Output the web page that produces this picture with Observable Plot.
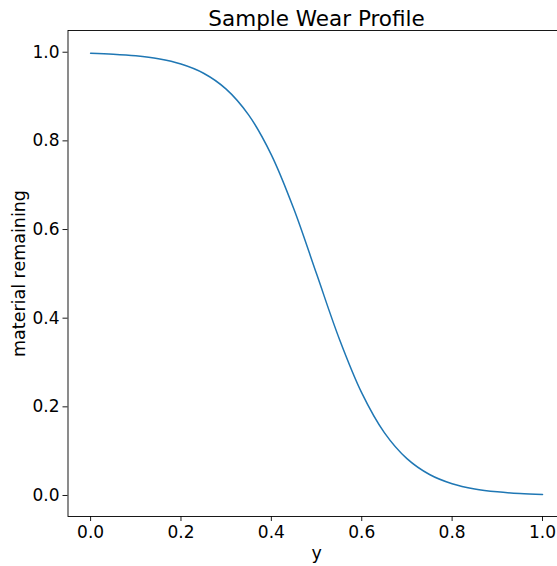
<!DOCTYPE html>
<html>
<head>
<meta charset="utf-8">
<script src="https://cdn.jsdelivr.net/npm/d3@7"></script>
<script src="https://cdn.jsdelivr.net/npm/@observablehq/plot@0.6"></script>
<style>
  html, body { margin: 0; padding: 0; background: white; overflow: hidden; }
  #chart svg { overflow: hidden; }
</style>
</head>
<body>
<div id="chart"></div>
<script>
const title = "Sample Wear Profile";
const xLabel = "y";
const yLabel = "material remaining";

const positions = [0.00, 0.05, 0.10, 0.15, 0.20, 0.25, 0.30, 0.35, 0.40, 0.45, 0.50,
                   0.55, 0.60, 0.65, 0.70, 0.75, 0.80, 0.85, 0.90, 0.95, 1.00];
const remaining = [0.9975, 0.9955, 0.9918, 0.9852, 0.9734, 0.9526, 0.9168, 0.8581, 0.7685, 0.6457, 0.5000,
                   0.3543, 0.2315, 0.1419, 0.0832, 0.0474, 0.0266, 0.0148, 0.0082, 0.0045, 0.0025];

const xTicks = [0, 0.2, 0.4, 0.6, 0.8, 1.0];
const yTicks = [0, 0.2, 0.4, 0.6, 0.8, 1.0];

const data = positions.map((p, i) => ({p, v: remaining[i]}));
const font = "DejaVu Sans";
const fmt = d3.format(".1f");

const chart = Plot.plot({
  width: 557,
  height: 566,
  marginLeft: 67.5,
  marginRight: -7.6,
  marginTop: 30,
  marginBottom: 50,
  style: {fontFamily: font, background: "white", color: "#000"},
  x: {domain: [-0.05, 1.05]},
  y: {domain: [-0.0474, 1.049]},
  marks: [
    Plot.frame({stroke: "#000", strokeWidth: 0.9}),
    Plot.axisX({ticks: xTicks, tickFormat: fmt, tickSize: 5, tickPadding: 4.5, fontSize: 17, label: null, stroke: "#000", strokeWidth: 0.9}),
    Plot.axisY({ticks: yTicks, tickFormat: fmt, tickSize: 5, tickPadding: 3.5, fontSize: 17, label: null, stroke: "#000", strokeWidth: 0.9}),
    Plot.line(data, {x: "p", y: "v", stroke: "#1f77b4", strokeWidth: 1.5, curve: "catmull-rom"}),
    Plot.text([title], {frameAnchor: "top", lineAnchor: "bottom", dy: -5, fontSize: 21.5, fill: "#000", text: d => d}),
    Plot.text([yLabel], {frameAnchor: "left", lineAnchor: "bottom", textAnchor: "middle", rotate: -90, dx: -43.5, fontSize: 17.5, fill: "#000", text: d => d}),
    Plot.text([xLabel], {frameAnchor: "bottom", lineAnchor: "bottom", dy: 42, fontSize: 17.5, fill: "#000", text: d => d})
  ]
});
document.getElementById("chart").append(chart);
</script>
</body>
</html>
